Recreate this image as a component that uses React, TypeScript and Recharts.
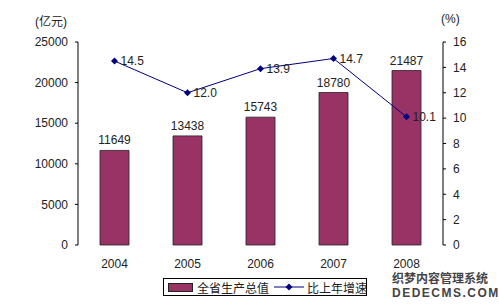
import React from 'react';
import { ComposedChart, Bar, Line, XAxis, YAxis, LabelList } from 'recharts';

const years = ['2004', '2005', '2006', '2007', '2008'];
const gdp = [11649, 13438, 15743, 18780, 21487];
const growth = [14.5, 12.0, 13.9, 14.7, 10.1];
const leftTicks = [0, 5000, 10000, 15000, 20000, 25000];
const rightTicks = [0, 2, 4, 6, 8, 10, 12, 14, 16];

const BAR_COLOR = '#993366';
const LINE_COLOR = '#000080';
const FONT = '"Liberation Sans", "Noto Sans CJK SC", sans-serif';

const data = years.map((y, i) => ({ year: y, gdp: gdp[i], growth: growth[i] }));

// small diamond marker like the excel one
const Diamond = (props: any) => {
  const { cx, cy } = props;
  if (cx == null || cy == null) return null;
  return <path d={`M${cx},${cy - 3.5}L${cx + 3.5},${cy}L${cx},${cy + 3.5}L${cx - 3.5},${cy}Z`} fill={LINE_COLOR} />;
};

export default function App() {
  const tickStyle = { fontSize: 12, fill: '#222', fontFamily: FONT };
  return (
    <div style={{ position: 'absolute', left: 0, top: 0, width: 499, height: 304, background: '#fff', fontFamily: FONT }}>
      <ComposedChart
        width={499}
        height={304}
        data={data}
        margin={{ top: 42, right: 16, bottom: 34, left: 28 }}
      >
        <XAxis
          dataKey="year"
          axisLine={false}
          tickLine={false}
          tick={tickStyle}
          height={25}
          tickMargin={8}
        />
        <YAxis
          yAxisId="left"
          domain={[0, 25000]}
          ticks={leftTicks}
          width={50}
          tick={tickStyle}
          axisLine={{ stroke: '#000' }}
          tickLine={{ stroke: '#000' }}
          tickSize={3}
          tickMargin={7}
        />
        <YAxis
          yAxisId="right"
          orientation="right"
          domain={[0, 16]}
          ticks={rightTicks}
          width={40}
          tick={tickStyle}
          axisLine={{ stroke: '#000' }}
          tickLine={{ stroke: '#000' }}
          tickSize={3}
          tickMargin={7}
        />
        <Bar
          yAxisId="left"
          dataKey="gdp"
          fill={BAR_COLOR}
          stroke="#222"
          strokeWidth={0.8}
          barSize={29}
          isAnimationActive={false}
        >
          <LabelList dataKey="gdp" position="top" offset={6} style={{ fontSize: 12, fill: '#222', fontFamily: FONT }} />
        </Bar>
        <Line
          yAxisId="right"
          dataKey="growth"
          stroke={LINE_COLOR}
          strokeWidth={1}
          dot={<Diamond />}
          activeDot={false}
          isAnimationActive={false}
        >
          <LabelList
            dataKey="growth"
            position="right"
            offset={6}
            formatter={(v: any) => Number(v).toFixed(1)}
            style={{ fontSize: 12, fill: '#222', fontFamily: FONT }}
          />
        </Line>
      </ComposedChart>

      <div style={{ position: 'absolute', left: 35, top: 12, fontSize: 12, color: '#222' }}>(亿元)</div>
      <div style={{ position: 'absolute', left: 441, top: 12, fontSize: 12, color: '#222' }}>(%)</div>

      {/* legend */}
      <div
        style={{
          position: 'absolute',
          left: 163,
          top: 278,
          width: 204,
          height: 18,
          border: '1px solid #000',
          display: 'flex',
          alignItems: 'center',
          fontSize: 12,
          color: '#222',
          boxSizing: 'border-box',
          whiteSpace: 'nowrap',
        }}
      >
        <span style={{ display: 'inline-block', flex: 'none', width: 23, height: 7, background: BAR_COLOR, border: '1px solid #222', marginLeft: 4, marginRight: 4 }} />
        <span>全省生产总值</span>
        <svg width={30} height={10} style={{ flex: 'none', marginLeft: 5, marginRight: 3 }}>
          <line x1={0} y1={5} x2={30} y2={5} stroke={LINE_COLOR} strokeWidth={1} />
          <path d="M15,1.5L18.5,5L15,8.5L11.5,5Z" fill={LINE_COLOR} />
        </svg>
        <span>比上年增速</span>
      </div>

      {/* watermark */}
      <div style={{ position: 'absolute', left: 392, top: 272, fontSize: 12, fontWeight: 'bold', color: '#444', lineHeight: '14px', whiteSpace: 'nowrap' }}>
        <div>织梦内容管理系统</div>
        <div style={{ letterSpacing: 1.5 }}>DEDECMS.COM</div>
      </div>
    </div>
  );
}
